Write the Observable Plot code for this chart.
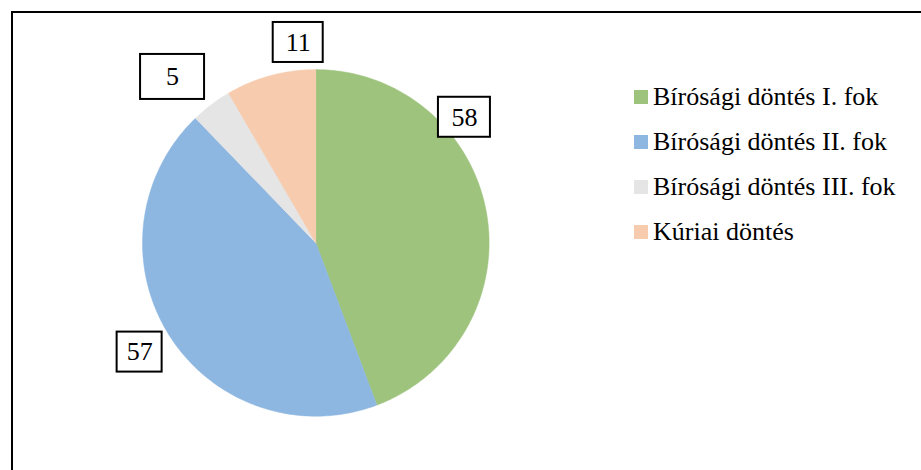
<!DOCTYPE html>
<html>
<head>
<meta charset="utf-8">
<script src="https://cdn.jsdelivr.net/npm/d3@7"></script>
<script src="https://cdn.jsdelivr.net/npm/@observablehq/plot@0.6"></script>
<style>
  html, body { margin: 0; padding: 0; background: #fff; }
  #wrap { position: relative; width: 921px; height: 470px; overflow: hidden; background: #fff; }
  #frame { position: absolute; left: 11px; top: 11px; width: 1000px; height: 600px; border-left: 2px solid #000; border-top: 2px solid #000; box-sizing: border-box; }
  #chart { position: absolute; left: 0; top: 0; }
  #legend { position: absolute; left: 634px; top: 74px; width: 285px; }
  #legend .lg-swatches { font-family: "Liberation Serif", "Times New Roman", Tinos, "DejaVu Serif", "Noto Serif", serif !important; font-size: 26px !important; color: #000 !important; margin: 0 !important; }
  #legend .lg-swatch { height: 45px; padding: 0 !important; display: flex; align-items: center; }
  #legend .lg-swatch > svg { margin-right: 5px !important; }
  #legend .lg-swatch-label { overflow: visible !important; }
  #chart text { font-family: "Liberation Serif", "Times New Roman", Tinos, "DejaVu Serif", "Noto Serif", serif !important; }
  g[aria-label="box-shadow-green"] rect { filter: drop-shadow(2px 3px 3px rgba(110,160,80,0.55)); }
  g[aria-label="box-shadow-blue"] rect { filter: drop-shadow(2px 3px 3px rgba(90,140,200,0.55)); }
</style>
</head>
<body>
<div id="wrap">
  <div id="frame"></div>
  <div id="chart"></div>
  <div id="legend"></div>
</div>
<script>
// ---- data ----
const categories = ["Bírósági döntés I. fok", "Bírósági döntés II. fok", "Bírósági döntés III. fok", "Kúriai döntés"];
const values = [58, 57, 5, 11];
const colors = ["#9DC37D", "#8DB7E1", "#E5E5E5", "#F7CBAD"];

// ---- layout (styling, not data) ----
const W = 921, H = 470;
const cx = 315.3, cy = 242.4, R = 173.3;
// label placement: angle nudge (deg) from slice middle, radial distance factor, box size (px), shadow group
const labelLayout = [
  {nudge: -29.9, dist: 1.123, w: 52, h: 40, shadow: "green"},
  {nudge: 0.5, dist: 1.196, w: 45, h: 40, shadow: "blue"},
  {nudge: -3.7, dist: 1.265, w: 64, h: 45, shadow: null},
  {nudge: 10.1, dist: 1.161, w: 50, h: 40, shadow: null}
];

const arcs = d3.pie().sort(null).startAngle(0).endAngle(2 * Math.PI)(values);

// slice outlines (geometry derived from pie angles)
const slicePts = [];
arcs.forEach((a, i) => {
  const cat = categories[i];
  slicePts.push({cat, x: 0, y: 0});
  const n = Math.max(2, Math.ceil((a.endAngle - a.startAngle) / (Math.PI / 180)));
  for (let k = 0; k <= n; k++) {
    const t = a.startAngle + (a.endAngle - a.startAngle) * k / n;
    slicePts.push({cat, x: Math.sin(t), y: Math.cos(t)});
  }
  slicePts.push({cat, x: 0, y: 0});
});

const labels = arcs.map((a, i) => {
  const L = labelLayout[i];
  const mid = (a.startAngle + a.endAngle) / 2 + L.nudge * Math.PI / 180;
  const x = L.dist * Math.sin(mid), y = L.dist * Math.cos(mid);
  const hw = L.w / 2 / R, hh = L.h / 2 / R;
  return {cat: categories[i], value: values[i], x, y, x1: x - hw, x2: x + hw, y1: y - hh, y2: y + hh, shadow: L.shadow};
});

const serif = "'Liberation Serif', 'Times New Roman', Tinos, 'DejaVu Serif', serif";

const chart = Plot.plot({
  width: W,
  height: H,
  margin: 0,
  style: {background: "transparent", overflow: "visible"},
  x: {domain: [-1, 1], range: [cx - R, cx + R], axis: null},
  y: {domain: [-1, 1], range: [cy + R, cy - R], axis: null},
  color: {domain: categories, range: colors},
  marks: [
    Plot.line(slicePts, {x: "x", y: "y", z: "cat", fill: "cat", stroke: "cat", strokeWidth: 0.5, curve: "linear"}),
    Plot.rect(labels.filter(d => d.shadow === "green"), {x1: "x1", x2: "x2", y1: "y1", y2: "y2", fill: "white", stroke: "black", strokeWidth: 2, ariaLabel: "box-shadow-green"}),
    Plot.rect(labels.filter(d => d.shadow === "blue"), {x1: "x1", x2: "x2", y1: "y1", y2: "y2", fill: "white", stroke: "black", strokeWidth: 2, ariaLabel: "box-shadow-blue"}),
    Plot.rect(labels.filter(d => !d.shadow), {x1: "x1", x2: "x2", y1: "y1", y2: "y2", fill: "white", stroke: "black", strokeWidth: 2}),
    Plot.text(labels, {x: "x", y: "y", text: d => String(d.value), fontSize: 26, fontFamily: serif, fill: "black"})
  ]
});
document.getElementById("chart").appendChild(chart);

const legend = Plot.legend({
  color: {domain: categories, range: colors},
  legend: "swatches",
  columns: 1,
  swatchSize: 14,
  className: "lg"
});
document.getElementById("legend").appendChild(legend);
</script>
</body>
</html>
